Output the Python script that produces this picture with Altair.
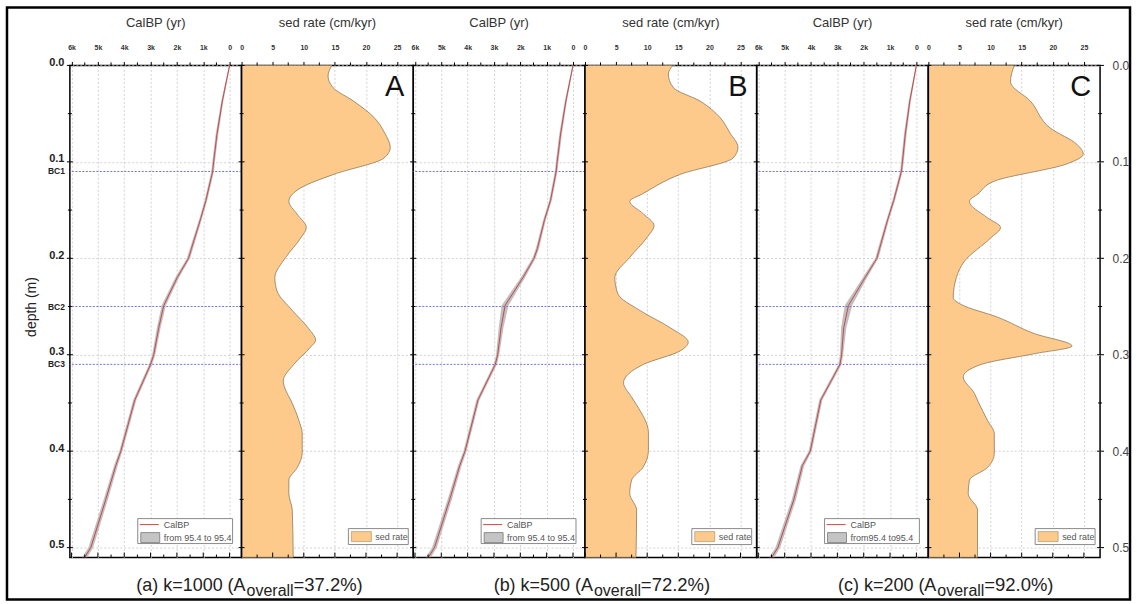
import altair as alt
import pandas as pd

FONT = "Liberation Sans"
W, H = 172, 493
GRID = "#d2d2d2"
ORANGE = "#fdca8c"
EDGE = "#8c7a5c"
RED = "#c84848"
BAND = "#b4b4b4"
BLUE = "#7474dc"

# ---------------- axis tick values ----------------
DEPTH_MAJOR = [0.0, 0.1, 0.2, 0.3, 0.4, 0.5]
DEPTH_MINOR = [0.05, 0.15, 0.25, 0.35, 0.45]
BC_DEPTH = [0.11, 0.25, 0.31]
BC_LABEL = ["BC1", "BC2", "BC3"]
AGE_MAJOR = [0, 1000, 2000, 3000, 4000, 5000, 6000]
AGE_MINOR = [500, 1500, 2500, 3500, 4500, 5500]
SED_MAJOR = [0, 5, 10, 15, 20, 25]
SED_MINOR = [2.5, 7.5, 12.5, 17.5, 22.5]

# ---------------- age-depth models (CalBP, yr) ----------------
DEPTH_AGE = [0.0, 0.037, 0.071, 0.10, 0.11, 0.14, 0.16, 0.19, 0.20, 0.22,
             0.249, 0.272, 0.30, 0.31, 0.347, 0.40, 0.415, 0.45, 0.50, 0.51]
AGE_A = [0, 276, 477, 606, 644, 900, 1110, 1450, 1560, 1990,
         2500, 2690, 2880, 3000, 3600, 4130, 4320, 4700, 5270, 5500]
AGE_B = [0, 270, 470, 600, 640, 853, 1080, 1353, 1480, 1900,
         2580, 2730, 2860, 2950, 3610, 4100, 4300, 4680, 5260, 5490]
AGE_C = [0, 250, 420, 530, 570, 860, 1090, 1400, 1500, 1950,
         2580, 2760, 2840, 2900, 3630, 4030, 4330, 4650, 5260, 5490]
UNC_A = [20, 40, 50, 50, 50, 50, 50, 60, 60, 70, 80, 70, 60, 60, 60, 60, 70, 80, 90, 100]
UNC_B = [20, 40, 50, 50, 50, 50, 50, 60, 60, 80, 130, 90, 60, 60, 60, 60, 70, 80, 90, 100]
UNC_C = [20, 40, 50, 50, 50, 50, 50, 60, 60, 80, 140, 100, 60, 60, 60, 60, 70, 80, 90, 100]

# ---------------- sedimentation rates (cm/kyr) ----------------
SED_DEPTH_A = [0.000, 0.011, 0.023, 0.037, 0.054, 0.070, 0.085, 0.096, 0.113, 0.127,
               0.141, 0.154, 0.168, 0.179, 0.199, 0.220, 0.234, 0.254, 0.273, 0.285,
               0.292, 0.310, 0.327, 0.337, 0.347, 0.368, 0.382, 0.402, 0.417, 0.430,
               0.444, 0.461, 0.510]
SED_A = [14.5, 13.9, 14.7, 18.0, 21.3, 23.0, 23.9, 22.9, 14.8, 9.5,
         7.6, 8.9, 10.4, 9.5, 7.1, 5.35, 5.7, 8.15, 10.8, 11.9,
         11.1, 8.4, 6.7, 7.1, 7.9, 9.2, 9.75, 9.75, 8.95, 7.6,
         7.6, 8.15, 8.3]
SED_DEPTH_B = [0.000, 0.009, 0.023, 0.037, 0.054, 0.070, 0.085, 0.096, 0.113, 0.133,
               0.141, 0.154, 0.166, 0.179, 0.199, 0.220, 0.237, 0.254, 0.272, 0.287,
               0.296, 0.310, 0.329, 0.344, 0.352, 0.381, 0.399, 0.417, 0.430, 0.444,
               0.461, 0.510]
SED_B = [14.1, 13.4, 14.2, 18.5, 21.7, 23.3, 24.6, 23.8, 15.3, 9.3,
         7.2, 9.4, 11.1, 9.9, 7.2, 4.8, 5.3, 8.8, 13.7, 16.6,
         15.3, 9.4, 6.2, 7.5, 8.3, 10.2, 10.2, 9.3, 7.5, 7.2,
         8.3, 8.2]
SED_DEPTH_C = [0.000, 0.017, 0.037, 0.065, 0.082, 0.092, 0.102, 0.120, 0.133, 0.141,
               0.158, 0.168, 0.179, 0.203, 0.220, 0.241, 0.248, 0.261, 0.278, 0.291,
               0.299, 0.310, 0.323, 0.340, 0.348, 0.368, 0.382, 0.402, 0.417, 0.430,
               0.444, 0.461, 0.510]
SED_C = [13.8, 13.2, 16.4, 19.6, 23.9, 24.9, 22.3, 10.6, 8.0, 6.6,
         9.5, 11.6, 10.0, 5.8, 4.5, 4.0, 5.3, 11.1, 17.0, 23.1,
         17.0, 8.5, 5.6, 7.4, 7.95, 9.5, 10.6, 10.6, 9.5, 6.6,
         6.4, 7.9, 7.9]

LETTERS = ["A", "B", "C"]
CAP_PRE = ["(a) k=1000 (A", "(b) k=500 (A", "(c) k=200 (A"]
CAP_SUB = "overall"
CAP_POST = ["=37.2%)", "=72.2%)", "=92.0%)"]
CAP_ANCHOR = [4, 8, 8]
LEG_RANGE = ["from 95.4 to 95.4", "from 95.4 to 95.4", "from95.4 to95.4"]

YS = alt.Scale(domain=[0, 0.5103], reverse=True, nice=False, zero=False)
AGES = alt.Scale(domain=[-455, 6064], reverse=True, nice=False, zero=False)
SEDS = alt.Scale(domain=[0, 27.6], nice=False, zero=False)

one = pd.DataFrame({"v": [0]})


def txt(text, x, y, **kw):
    kw.setdefault("font", FONT)
    return alt.Chart(one).mark_text(text=text, **kw).encode(x=alt.value(x), y=alt.value(y))


def vrule(x1, x2, y1, y2, **kw):
    return alt.Chart(one).mark_rule(**kw).encode(
        x=alt.value(x1), x2=alt.value(x2), y=alt.value(y1), y2=alt.value(y2))


def box(x1, x2, y1, y2, **kw):
    return alt.Chart(one).mark_rect(**kw).encode(
        x=alt.value(x1), x2=alt.value(x2), y=alt.value(y1), y2=alt.value(y2))


def x_axis(values, expr=None):
    kw = dict(orient="top", values=values, tickSize=4, tickColor="black", tickWidth=1,
              labelFontSize=7, labelFontWeight="bold", labelColor="#333", labelFont=FONT,
              labelPadding=11, labelFlush=False, labelOverlap=False, domain=False,
              grid=True, gridDash=[2, 2], gridColor=GRID, title=None)
    if expr:
        kw["labelExpr"] = expr
    return alt.Axis(**kw)


def y_axis(mode):
    base = dict(values=DEPTH_MAJOR, ticks=False, tickSize=0, domain=False, grid=True,
                gridDash=[2, 2], gridColor=GRID, title=None, format=".1f", labelFont=FONT,
                labelOverlap=False, labelFlush=False)
    if mode == "left":
        base.update(labels=True, labelFontSize=11, labelFontWeight="bold", labelColor="#222",
                    labelPadding=6, labelBaseline="alphabetic", labelAlign="right")
    elif mode == "right":
        base.update(orient="right", labels=True, labelFontSize=12, labelColor="#444",
                    labelPadding=12, labelBaseline="middle", labelAlign="left")
    else:
        base.update(labels=False)
    return alt.Axis(**base)


def tick_layers(xs, xax, yax, major, minor, right_edge=False):
    dmaj = pd.DataFrame({"d": DEPTH_MAJOR})
    dmin = pd.DataFrame({"d": DEPTH_MINOR})
    xmin = pd.DataFrame({"t": minor})
    xmaj = pd.DataFrame({"t": major})
    Y = lambda: alt.Y("d:Q", scale=YS, axis=yax, title=None)
    X = lambda: alt.X("t:Q", scale=xs, axis=xax, title=None)
    ly = [
        alt.Chart(dmaj).mark_rule(color="black", strokeWidth=1).encode(
            y=Y(), x=alt.value(-3), x2=alt.value(3)),
        alt.Chart(dmin).mark_rule(color="black", strokeWidth=1).encode(
            y=Y(), x=alt.value(-2), x2=alt.value(2)),
        alt.Chart(xmin).mark_rule(color="black", strokeWidth=1).encode(
            x=X(), y=alt.value(0), y2=alt.value(-3)),
        alt.Chart(xmaj).mark_rule(color="black", strokeWidth=1).encode(
            x=X(), y=alt.value(H), y2=alt.value(H - 5)),
        alt.Chart(xmin).mark_rule(color="black", strokeWidth=1).encode(
            x=X(), y=alt.value(H), y2=alt.value(H - 3)),
    ]
    if right_edge:
        ly += [
            alt.Chart(dmaj).mark_rule(color="black", strokeWidth=1).encode(
                y=Y(), x=alt.value(W - 3), x2=alt.value(W + 4)),
            alt.Chart(dmin).mark_rule(color="black", strokeWidth=1).encode(
                y=Y(), x=alt.value(W - 2), x2=alt.value(W + 2)),
        ]
    return ly


AGE_EXPR = "datum.value == 0 ? '0' : format(datum.value/1000, 'd') + 'k'"


def calbp_panel(i, first=False):
    age = [AGE_A, AGE_B, AGE_C][i]
    unc = [UNC_A, UNC_B, UNC_C][i]
    df = pd.DataFrame({"depth": DEPTH_AGE, "age": age,
                       "lo": [a - u for a, u in zip(age, unc)],
                       "hi": [a + u for a, u in zip(age, unc)]})
    bc = pd.DataFrame({"d": BC_DEPTH, "label": BC_LABEL})
    yax = y_axis("left" if first else "none")
    xax = x_axis(AGE_MAJOR, AGE_EXPR)
    band = alt.Chart(df).mark_area(orient="horizontal", color=BAND, opacity=0.85).encode(
        y=alt.Y("depth:Q", scale=YS, axis=yax, title=None),
        x=alt.X("lo:Q", scale=AGES, axis=xax, title=None),
        x2="hi:Q")
    bcl = alt.Chart(bc).mark_rule(color=BLUE, strokeDash=[2, 1.5], strokeWidth=1).encode(
        y=alt.Y("d:Q", scale=YS, axis=yax, title=None))
    line = alt.Chart(df).mark_line(color=RED, strokeWidth=1).encode(
        y=alt.Y("depth:Q", scale=YS, axis=yax, title=None),
        x=alt.X("age:Q", scale=AGES, axis=xax, title=None),
        order="depth:Q")
    layers = [band, bcl, line] + tick_layers(AGES, xax, yax, AGE_MAJOR, AGE_MINOR)
    # legend
    layers += [
        box(W - 104, W - 9, H - 39, H - 14, fill="white", stroke="#8a8a8a", strokeWidth=1),
        vrule(W - 102, W - 83, H - 33, H - 33, color=RED, strokeWidth=1),
        txt("CalBP", W - 78, H - 33, align="left", baseline="middle", fontSize=9, color="#555"),
        box(W - 101, W - 82, H - 25, H - 15, fill="#c4c4c4", stroke="#777", strokeWidth=0.8),
        txt(LEG_RANGE[i], W - 78, H - 20, align="left", baseline="middle", fontSize=9, color="#555"),
        txt("CalBP (yr)", W / 2, -42, align="center", baseline="middle", fontSize=13, color="#333"),
    ]
    if first:
        layers += [
            alt.Chart(bc).mark_text(align="right", baseline="middle", fontSize=8.5,
                                    fontWeight="bold", font=FONT, color="#222").encode(
                y=alt.Y("d:Q", scale=YS, axis=yax, title=None), x=alt.value(-5), text="label:N"),
            txt("depth (m)", -38, 242, angle=270, align="center", baseline="middle",
                fontSize=14, color="#222"),
            box(-63, 1062, -58, 535, fillOpacity=0, stroke="black", strokeWidth=2.5),
        ]
    return alt.layer(*layers).properties(width=W, height=H)


def sed_panel(i, last=False):
    depth = [SED_DEPTH_A, SED_DEPTH_B, SED_DEPTH_C][i]
    rate = [SED_A, SED_B, SED_C][i]
    df = pd.DataFrame({"depth": depth, "rate": rate})
    yax = y_axis("right" if last else "none")
    xax = x_axis(SED_MAJOR)
    area = alt.Chart(df).mark_area(orient="horizontal", interpolate="monotone", fill=ORANGE,
                                   stroke=EDGE, strokeWidth=0.8).encode(
        y=alt.Y("depth:Q", scale=YS, axis=yax, title=None),
        x=alt.X("rate:Q", scale=SEDS, axis=xax, title=None, stack=None))
    layers = [area, vrule(0, 0, 0, H, color="black", strokeWidth=1.5)]
    layers += tick_layers(SEDS, xax, yax, SED_MAJOR, SED_MINOR, right_edge=last)
    a = CAP_ANCHOR[i]
    layers += [
        box(W - 65, W - 5, H - 29, H - 13, fill="white", stroke="#8a8a8a", strokeWidth=1),
        box(W - 62, W - 42, H - 26, H - 16, fill=ORANGE, stroke="#a08a60", strokeWidth=0.6),
        txt("sed rate", W - 38, H - 21, align="left", baseline="middle", fontSize=9, color="#555"),
        txt("sed rate (cm/kyr)", W / 2, -42, align="center", baseline="middle", fontSize=13,
            color="#333"),
        txt(LETTERS[i], W - 9, 31, align="right", baseline="alphabetic", fontSize=29,
            color="#111"),
        txt(CAP_PRE[i], a, H + 34, align="right", baseline="alphabetic", fontSize=18,
            color="#222"),
        txt(CAP_SUB, a + 1, H + 39, align="left", baseline="alphabetic", fontSize=16,
            color="#222"),
        txt(CAP_POST[i], a + 48, H + 34, align="left", baseline="alphabetic", fontSize=18.5,
            color="#222"),
    ]
    return alt.layer(*layers).properties(width=W, height=H)


panels = [calbp_panel(0, first=True), sed_panel(0),
          calbp_panel(1), sed_panel(1),
          calbp_panel(2), sed_panel(2, last=True)]

chart = alt.hconcat(*panels, spacing=0, bounds="flush").properties(
    padding={"left": 5, "top": 5, "right": 5, "bottom": 3},
    background="white",
).configure_view(stroke="black", strokeWidth=1.5).configure_axis(labelFont=FONT)

chart.save("out.html", embed_options={"renderer": "svg", "actions": False})
